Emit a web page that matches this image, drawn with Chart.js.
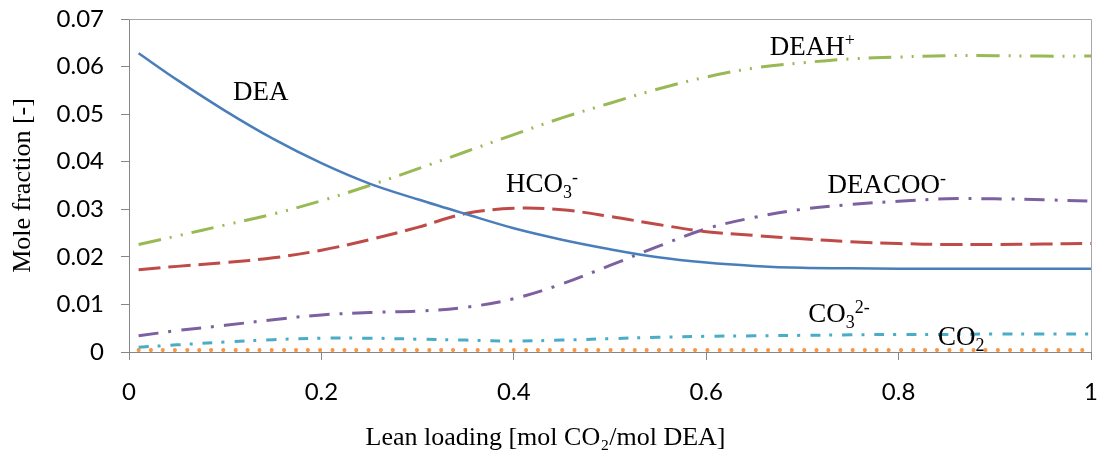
<!DOCTYPE html>
<html>
<head>
<meta charset="utf-8">
<script src="https://cdn.jsdelivr.net/npm/chart.js@4.4.0/dist/chart.umd.min.js"></script>
<style>
  body { margin: 0; background: #fff; }
  canvas { display: block; }
</style>
</head>
<body>
<canvas id="myChart" width="1104" height="457"></canvas>
<script>
// lean loading values where the curves were read
const loading = [0.01, 0.05, 0.10, 0.15, 0.20, 0.25, 0.30, 0.35, 0.40, 0.45, 0.50,
                 0.55, 0.60, 0.65, 0.70, 0.75, 0.80, 0.85, 0.90, 0.95, 1.00];

// mole fractions of each species
const dea    = [0.0628, 0.0572, 0.0507, 0.0448, 0.0397, 0.0354, 0.0321, 0.0290, 0.0260, 0.0236, 0.0216,
                0.0199, 0.0188, 0.0181, 0.0177, 0.0176, 0.0175, 0.0175, 0.0175, 0.0175, 0.0175];
const deah   = [0.0226, 0.0244, 0.0267, 0.0290, 0.0318, 0.0350, 0.0385, 0.0421, 0.0457, 0.0492, 0.0523,
                0.0553, 0.0578, 0.0597, 0.0608, 0.0616, 0.0620, 0.0623, 0.0623, 0.0622, 0.0622];
const hco3   = [0.0173, 0.0180, 0.0188, 0.0198, 0.0214, 0.0236, 0.0262, 0.0291, 0.0302, 0.0299, 0.0285,
                0.0268, 0.0253, 0.0245, 0.0238, 0.0232, 0.0228, 0.0226, 0.0226, 0.0227, 0.0228];
const deacoo = [0.0034, 0.0045, 0.0056, 0.0068, 0.0078, 0.0083, 0.0086, 0.0094, 0.0112, 0.0143, 0.0182,
                0.0222, 0.0259, 0.0283, 0.0300, 0.0310, 0.0317, 0.0322, 0.0322, 0.0320, 0.0317];
const co3    = [0.0010, 0.0015, 0.0021, 0.0026, 0.0029, 0.0029, 0.0027, 0.0025, 0.0023, 0.0025, 0.0028,
                0.0031, 0.0033, 0.0034, 0.0035, 0.0036, 0.0037, 0.0037, 0.0038, 0.0038, 0.0038];
const co2    = [0.0004, 0.0004, 0.0004, 0.0004, 0.0004, 0.0004, 0.0004, 0.0004, 0.0004, 0.0004, 0.0004,
                0.0004, 0.0004, 0.0004, 0.0004, 0.0004, 0.0004, 0.0004, 0.0004, 0.0004, 0.0004];

// axis ticks
const xTickValues = [0, 0.2, 0.4, 0.6, 0.8, 1];
const xTickLabels = ['0', '0.2', '0.4', '0.6', '0.8', '1'];
const yTickValues = [0, 0.01, 0.02, 0.03, 0.04, 0.05, 0.06, 0.07];
const yTickLabels = ['0', '0.01', '0.02', '0.03', '0.04', '0.05', '0.06', '0.07'];

// species names written next to the curves (text parts: normal / sub / sup),
// anchored at the left end of the baseline, in data units
const speciesNames = [
  [['DEA', '']],
  [['DEAH', ''], ['+', 'sup']],
  [['HCO', ''], ['3', 'sub'], ['-', 'sup']],
  [['DEACOO', ''], ['-', 'sup']],
  [['CO', ''], ['3', 'sub'], ['2-', 'sup']],
  [['CO', ''], ['2', 'sub']]
];
const nameX = [0.108, 0.666, 0.392, 0.726, 0.706, 0.841];
const nameY = [0.0530, 0.0624, 0.0336, 0.0334, 0.0063, 0.0015];

const toPoints = arr => arr.map((v, i) => ({ x: loading[i], y: v }));

// grey frame on top and right of the plot area
const plotFrame = {
  id: 'plotFrame',
  beforeDatasetsDraw(chart) {
    const { ctx, chartArea: a } = chart;
    ctx.save();
    ctx.strokeStyle = '#A6A6A6';
    ctx.lineWidth = 1;
    ctx.beginPath();
    ctx.moveTo(a.left, a.top + 0.5);
    ctx.lineTo(a.right + 0.5, a.top + 0.5);
    ctx.lineTo(a.right + 0.5, a.bottom);
    ctx.stroke();
    ctx.restore();
  }
};

// curve labels with sub/superscripts
const curveLabels = {
  id: 'curveLabels',
  afterDatasetsDraw(chart) {
    const { ctx, scales } = chart;
    ctx.save();
    ctx.fillStyle = '#000';
    ctx.textBaseline = 'alphabetic';
    ctx.textAlign = 'left';
    speciesNames.forEach((parts, i) => {
      let x = scales.x.getPixelForValue(nameX[i]);
      const y = scales.y.getPixelForValue(nameY[i]);
      parts.forEach(([txt, kind]) => {
        ctx.font = kind ? '18px "Liberation Serif"' : '27px "Liberation Serif"';
        const dy = kind === 'sub' ? 6 : kind === 'sup' ? -9 : 0;
        ctx.fillText(txt, x, y + dy);
        x += ctx.measureText(txt).width;
      });
    });
    ctx.restore();
  }
};

const ctx = document.getElementById('myChart').getContext('2d');

new Chart(ctx, {
  type: 'line',
  data: {
    datasets: [
      { label: 'DEA', data: toPoints(dea), borderColor: '#4A7EBB', borderWidth: 2.5 },
      { label: 'DEAH+', data: toPoints(deah), borderColor: '#98B954', borderWidth: 3,
        borderDash: [23, 9, 2, 9, 2, 9] },
      { label: 'HCO3-', data: toPoints(hco3), borderColor: '#BE4B48', borderWidth: 3,
        borderDash: [22, 8] },
      { label: 'DEACOO-', data: toPoints(deacoo), borderColor: '#7D60A0', borderWidth: 3,
        borderDash: [20, 10, 3, 10] },
      { label: 'CO3 2-', data: toPoints(co3), borderColor: '#4BACC6', borderWidth: 3,
        borderDash: [10, 9, 3, 10] },
      { label: 'CO2', data: toPoints(co2), borderColor: '#F79646', borderWidth: 4,
        borderDash: [0.1, 12], borderCapStyle: 'round' }
    ]
  },
  options: {
    responsive: false,
    animation: false,
    events: [],
    layout: { padding: { top: 19, right: 13, left: 0, bottom: 0 } },
    elements: {
      point: { radius: 0 },
      line: { tension: 0.35, fill: false }
    },
    plugins: {
      legend: { display: false },
      tooltip: { enabled: false },
      title: {
        display: true,
        position: 'bottom',
        text: 'Lean loading [mol CO₂/mol DEA]',
        font: { family: 'Liberation Serif', size: 26, weight: 'normal' },
        color: '#000',
        padding: { top: 7, bottom: 3 }
      }
    },
    scales: {
      x: {
        type: 'linear',
        min: 0,
        max: 1,
        afterBuildTicks: s => { s.ticks = xTickValues.map(v => ({ value: v })); },
        afterFit: s => { s.height = 63.8; s.paddingLeft = 0; s.paddingRight = 0; },
        ticks: {
          callback: (v, i) => xTickLabels[i],
          font: { family: 'Lato', size: 24 },
          color: '#000',
          padding: 18,
          maxRotation: 0,
          autoSkip: false
        },
        grid: { drawOnChartArea: false, tickLength: 8, color: '#868686' },
        border: { color: '#868686' }
      },
      y: {
        min: 0,
        max: 0.07,
        afterBuildTicks: s => { s.ticks = yTickValues.map(v => ({ value: v })); },
        afterFit: s => { s.width = 129; s.paddingTop = 0; s.paddingBottom = 0; },
        ticks: {
          callback: (v, i) => yTickLabels[i],
          font: { family: 'Lato', size: 24 },
          color: '#000',
          padding: 17
        },
        grid: { drawOnChartArea: false, tickLength: 8, color: '#868686' },
        border: { color: '#868686' },
        title: {
          display: true,
          text: 'Mole fraction [-]',
          font: { family: 'Liberation Serif', size: 26 },
          color: '#000',
          padding: { top: 8, bottom: 0 }
        }
      }
    }
  },
  plugins: [plotFrame, curveLabels]
});
</script>
</body>
</html>
